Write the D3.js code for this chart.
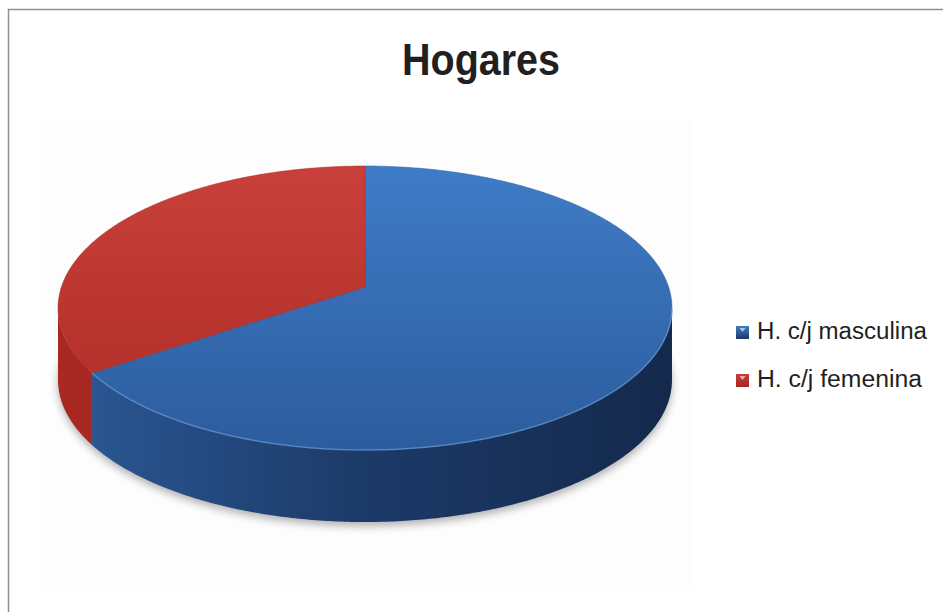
<!DOCTYPE html>
<meta charset="utf-8">
<style>
body { margin: 0; background: #fff; }
text { font-family: "Liberation Sans", Arial, sans-serif; fill: #231f20; }
</style>
<svg width="943" height="612"></svg>
<script src="https://d3js.org/d3.v7.min.js"></script>
<script>

var categories = ["H. c/j masculina", "H. c/j femenina"];
var values = [65.4, 34.6];
var topColors = [["#3f7cc7", "#2c5c9d"], ["#c9403a", "#ad2b25"]];
var sideColors = [["#2c5996", "#1c3a68", "#14294c"], ["#a82822", "#a52620", "#9c231d"]];

var svg = d3.select("svg");
var defs = svg.append("defs");

// frame + faint plot area
svg.append("rect").attr("x", 8.5).attr("y", 9.5).attr("width", 960).attr("height", 640)
    .attr("fill", "#fff").attr("stroke", "#8f8f94").attr("stroke-width", 1.5);
svg.append("rect").attr("x", 42).attr("y", 121).attr("width", 651).attr("height", 469)
    .attr("fill", "#fdfdfd");

svg.append("text").attr("x", 481).attr("y", 75).attr("text-anchor", "middle")
    .attr("font-size", 44).attr("font-weight", "bold")
    .attr("textLength", 158).attr("lengthAdjust", "spacingAndGlyphs")
    .text("Hogares");

// perspective projection of the unit disc
var cx = 365, cy = 287, Sx = 303.6, Sy = 138.9, k = 0.148, depth = 72;
function proj(a, dy) {
  var X = Math.sin(a), Y = -Math.cos(a), w = 1 - k * Y;
  return [cx + Sx * X / w, cy + Sy * Y / w + (dy || 0)];
}
function arcPts(a0, a1, dy) {
  var n = Math.max(2, Math.ceil(Math.abs(a1 - a0) / 0.01)), pts = [];
  for (var i = 0; i <= n; i++) pts.push(proj(a0 + (a1 - a0) * i / n, dy));
  return pts;
}

var pie = d3.pie().sort(null)(values);
var line = d3.line();

// gradients
pie.forEach(function(d, i) {
  var g = defs.append("linearGradient").attr("id", "top" + i)
      .attr("gradientUnits", "userSpaceOnUse").attr("x1", 0).attr("y1", 166).attr("x2", 0).attr("y2", 450);
  g.append("stop").attr("offset", 0).attr("stop-color", topColors[i][0]);
  g.append("stop").attr("offset", 1).attr("stop-color", topColors[i][1]);
  var s = defs.append("linearGradient").attr("id", "side" + i)
      .attr("gradientUnits", "userSpaceOnUse").attr("x1", 58).attr("y1", 0).attr("x2", 672).attr("y2", 0);
  s.append("stop").attr("offset", 0).attr("stop-color", sideColors[i][0]);
  s.append("stop").attr("offset", 0.5).attr("stop-color", sideColors[i][1]);
  s.append("stop").attr("offset", 1).attr("stop-color", sideColors[i][2]);
  var l = defs.append("linearGradient").attr("id", "leg" + i).attr("x1", 0).attr("y1", 0).attr("x2", 0).attr("y2", 1);
  l.append("stop").attr("offset", 0).attr("stop-color", topColors[i][0]);
  l.append("stop").attr("offset", 1).attr("stop-color", sideColors[i][1]);
});

var blur = defs.append("filter").attr("id", "blur").attr("x", "-10%").attr("y", "-10%").attr("width", "120%").attr("height", "130%");
blur.append("feGaussianBlur").attr("stdDeviation", 4);

// shadow
svg.append("path").attr("d", line(arcPts(0, 2 * Math.PI, depth + 4)) + "Z")
    .attr("fill", "#000").attr("opacity", 0.3).attr("filter", "url(#blur)");

// visible rim runs between the silhouette points
var aR = Math.acos(-k), aL = 2 * Math.PI - Math.acos(-k);
pie.forEach(function(d, i) {
  var a0 = Math.max(d.startAngle, aR), a1 = Math.min(d.endAngle, aL);
  if (a1 <= a0) return;
  var pts = arcPts(a0, a1, 0).concat(arcPts(a1, a0, depth));
  svg.append("path").attr("d", line(pts) + "Z").attr("fill", "url(#side" + i + ")");
});

// top faces
pie.forEach(function(d, i) {
  var pts = [[cx, cy]].concat(arcPts(d.startAngle, d.endAngle, 0));
  svg.append("path").attr("d", line(pts) + "Z").attr("fill", "url(#top" + i + ")")
      .attr("stroke", topColors[i][1]).attr("stroke-width", 0.5);
});

// light edge on the front rim
svg.append("path").attr("d", line(arcPts(Math.max(aR, pie[0].startAngle), Math.min(aL, pie[0].endAngle), 0)))
    .attr("fill", "none").attr("stroke", "#6c9fe0").attr("stroke-width", 1.5).attr("opacity", 0.6);

// legend
var legend = svg.append("g");
var rowY = [339, 387], widths = [170, 165];
categories.forEach(function(c, i) {
  legend.append("rect").attr("x", 736).attr("y", rowY[i] - 13).attr("width", 13).attr("height", 13)
      .attr("fill", "url(#leg" + i + ")");
  legend.append("path").attr("d", "M739.5," + (rowY[i] - 11) + "h6l-3,4z").attr("fill", "#fff").attr("opacity", 0.6);
  legend.append("text").attr("x", 757).attr("y", rowY[i]).attr("font-size", 23)
      .attr("textLength", widths[i]).attr("lengthAdjust", "spacingAndGlyphs")
      .text(c);
});

</script>
